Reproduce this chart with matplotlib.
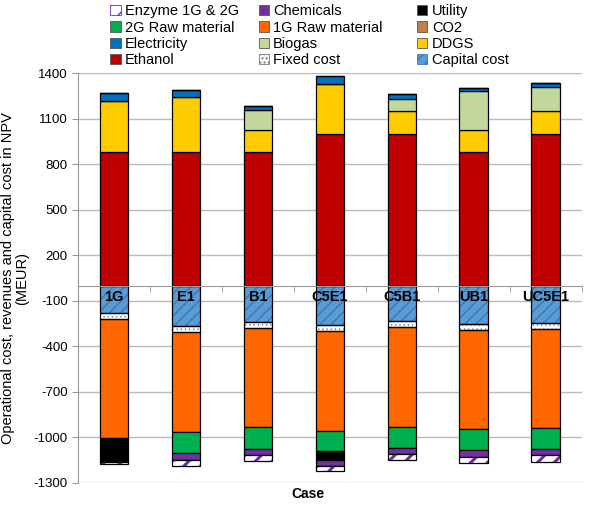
import numpy as np
import matplotlib
matplotlib.use('Agg')
from matplotlib import pyplot as plt
from matplotlib.patches import Patch

plt.rcParams['font.family'] = ['Liberation Sans', 'DejaVu Sans']
plt.rcParams['axes.unicode_minus'] = False

# values in MEUR
cases = ['1G', 'E1', 'B1', 'C5E1', 'C5B1', 'UB1', 'UC5E1']
ethanol = [880, 880, 880, 1002, 1002, 880, 1002]
ddgs = [338, 364, 149, 327, 147, 149, 149]
biogas = [0, 0, 126, 0, 81, 253, 158]
electricity = [53, 49, 30, 55, 36, 18, 27]
co2 = [0, 0, 0, 0, 0, 0, 0]
capital = [-181, -268, -240, -262, -233, -255, -244]
fixed = [-37, -40, -37, -39, -42, -40, -40]
raw1g = [-786, -657, -655, -657, -653, -652, -656]
raw2g = [0, -136, -143, -134, -140, -138, -138]
utility = [-150, 0, 0, -58, 0, 0, 0]
chemicals = [-8, -46, -39, -35, -44, -45, -40]
enzyme = [-15, -40, -44, -39, -38, -38, -45]

# (label, values, face, hatch, hatch colour, hatch width) in stacking order
series = [
    ('Capital cost', capital, '#5B9BD5', '///', '#3A78B5', 1.0),
    ('Fixed cost', fixed, 'white', '....', '#777777', 0.5),
    ('Ethanol', ethanol, '#C00000', None, None, None),
    ('DDGS', ddgs, '#FFCC00', None, None, None),
    ('Biogas', biogas, '#C3D69B', None, None, None),
    ('Electricity', electricity, '#0070C0', None, None, None),
    ('CO2', co2, '#C0804D', None, None, None),
    ('1G Raw material', raw1g, '#FF6600', None, None, None),
    ('2G Raw material', raw2g, '#00B050', None, None, None),
    ('Utility', utility, 'black', None, None, None),
    ('Chemicals', chemicals, '#7030A0', None, None, None),
    ('Enzyme 1G & 2G', enzyme, 'white', '//', '#7030A0', 2.2),
]

fig = plt.figure(figsize=(6.15, 5.05), dpi=100)
ax = fig.add_axes([0.127, 0.0436, 0.819, 0.8112])

x = np.arange(len(cases))
w = 0.40
pos = np.zeros(len(cases))
neg = np.zeros(len(cases))
handles = {}
for label, vals, face, hatch, hcol, hw in series:
    v = np.array(vals, dtype=float)
    bottom = np.where(v >= 0, pos, neg)
    if hatch:
        with plt.rc_context({'hatch.linewidth': hw}):
            ax.bar(x, v, w, bottom=bottom, color=face, hatch=hatch,
                   edgecolor=hcol, linewidth=0, zorder=2)
            handles[label] = Patch(facecolor=face, hatch=hatch, edgecolor=hcol,
                                   linewidth=0.6, label=label)
        ax.bar(x, v, w, bottom=bottom, fill=False, edgecolor='black',
               linewidth=0.9, zorder=3)
    else:
        ax.bar(x, v, w, bottom=bottom, color=face, edgecolor='black',
               linewidth=0.9, zorder=2)
        handles[label] = Patch(facecolor=face, edgecolor='#555555',
                               linewidth=0.6, label=label)
    pos = pos + np.where(v >= 0, v, 0)
    neg = neg + np.where(v < 0, v, 0)

ax.set_ylim(-1300, 1400)
ax.set_xlim(-0.5, len(cases) - 0.5)
ax.set_yticks(np.arange(-1300, 1401, 300))
ax.tick_params(axis='y', labelsize=9.5, color='#999999', length=4)
ax.yaxis.grid(True, color='#BBBBBB', linewidth=1)
ax.set_axisbelow(True)

ax.set_xticks([])
ax.set_xticks(np.arange(-0.5, len(cases), 1), minor=True)
ax.tick_params(axis='x', which='minor', length=4, color='#999999', labelbottom=False)
ax.spines['bottom'].set_position(('data', 0))
ax.spines['bottom'].set_color('#999999')
ax.spines['bottom'].set_zorder(4)
ax.spines['left'].set_color('#999999')
ax.spines['top'].set_visible(False)
ax.spines['right'].set_visible(False)

for i, c in enumerate(cases):
    ax.text(i, -28, c, ha='center', va='top', fontsize=10.5, fontweight='bold', zorder=5)

ax.set_ylabel('Operational cost, revenues and capital cost in NPV\n(MEUR)',
              fontsize=10.5, labelpad=3, linespacing=1.0)
fig.text(0.5, 0.022, 'Case', ha='center', va='center', fontsize=10, fontweight='bold')

# legend in three columns, read row by row
legend_cols = [['Enzyme 1G & 2G', '2G Raw material', 'Electricity', 'Ethanol'],
               ['Chemicals', '1G Raw material', 'Biogas', 'Fixed cost'],
               ['Utility', 'CO2', 'DDGS', 'Capital cost']]
col_x = [0.177, 0.418, 0.676]
for cx, names in zip(col_x, legend_cols):
    fig.legend([handles[k] for k in names], names, loc='upper left',
               bbox_to_anchor=(cx, 0.994), frameon=False, fontsize=10.5,
               handlelength=0.7, handleheight=0.7, handletextpad=0.3,
               labelspacing=0.15, borderaxespad=0, borderpad=0.1)

fig.savefig('out.png', dpi=100)
